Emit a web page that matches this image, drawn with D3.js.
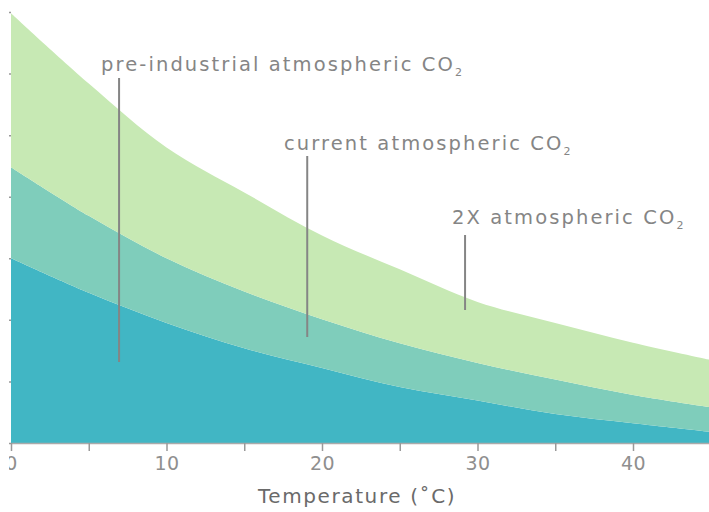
<!DOCTYPE html>
<html><head><meta charset="utf-8">
<script src="https://cdn.jsdelivr.net/npm/d3@7"></script>
<style>
html,body{margin:0;padding:0;background:#fff;}
svg{display:block;}
</style></head>
<body>
<svg id="chart" width="709" height="512"></svg>
<script>
// Temperature (°C) sample points
const temperature = [0, 5, 10, 15, 20, 25, 30, 35, 40, 45];
// Stacked layer thicknesses (bottom to top)
const preIndustrial = [3.00, 2.44, 1.95, 1.54, 1.22, 0.91, 0.69, 0.47, 0.32, 0.18];
const current       = [1.48, 1.25, 1.05, 0.92, 0.79, 0.71, 0.61, 0.56, 0.46, 0.40];
const doubled       = [2.50, 2.15, 1.80, 1.61, 1.36, 1.20, 0.99, 0.92, 0.85, 0.77];
const xTicks = [0, 10, 20, 30, 40];
const xMinorTicks = [0, 5, 10, 15, 20, 25, 30, 35, 40, 45];
const yTicks = [0, 1, 2, 3, 4, 5, 6, 7];
const seriesKeys = ["pre", "cur", "dbl"];
const labels = [
  {key: "pre", text: "pre-industrial atmospheric CO", t: 6.95},
  {key: "cur", text: "current atmospheric CO", t: 19.05},
  {key: "dbl", text: "2X atmospheric CO", t: 29.2}
];
const colors = {pre: "#41b6c4", cur: "#7fcdbb", dbl: "#c7e9b4"};

const svg = d3.select("#chart");
const x = d3.scaleLinear().domain([0, 45]).range([11, 710.75]);
const y = d3.scaleLinear().domain([0, 7]).range([443, 12]);

svg.append("defs").append("clipPath").attr("id", "crop")
  .append("rect").attr("x", 9).attr("y", 0).attr("width", 700).attr("height", 512);
const g = svg.append("g").attr("clip-path", "url(#crop)");

const table = temperature.map((t, i) => ({t, pre: preIndustrial[i], cur: current[i], dbl: doubled[i]}));
const stacked = d3.stack().keys(seriesKeys)(table);

const area = d3.area()
  .x(d => x(d.data.t))
  .y0(d => y(d[0]))
  .y1(d => y(d[1]))
  .curve(d3.curveCatmullRom.alpha(0.5));

g.selectAll("path.layer").data(stacked).join("path")
  .attr("class", "layer")
  .attr("fill", d => colors[d.key])
  .attr("d", area);

// y axis ticks (no labels)
const yAxis = g.append("g").attr("transform", "translate(11,0)")
  .call(d3.axisLeft(y).tickValues(yTicks).tickSize(3).tickFormat(""));
yAxis.select(".domain").remove();
yAxis.selectAll("line").attr("stroke", "#999").attr("stroke-width", 1.5);

// x axis
const xAxis = g.append("g").attr("transform", "translate(0,443)")
  .call(d3.axisBottom(x).tickValues(xMinorTicks).tickSize(8).tickSizeOuter(0)
    .tickFormat(d => xTicks.includes(d) ? d : ""));
xAxis.select(".domain").attr("stroke", "#aaa").attr("stroke-width", 1.5);
xAxis.selectAll(".tick line").attr("stroke", "#999").attr("stroke-width", 1.5);
xAxis.selectAll(".tick text")
  .attr("y", 14)
  .attr("fill", "#8f8f8f")
  .style("font-family", "'DejaVu Sans', sans-serif")
  .style("font-size", "19px")
  .style("letter-spacing", "0.5px");

// x axis title
g.append("text")
  .attr("x", 357).attr("y", 503)
  .attr("text-anchor", "middle")
  .attr("fill", "#6a6a6a")
  .style("font-family", "'DejaVu Sans', sans-serif")
  .style("font-size", "20px")
  .style("letter-spacing", "1.6px")
  .text("Temperature (˚C)");

// callouts
const callouts = [
  {text: labels[0].text, tx: 101, ty: 71, lx: labels[0].t, y1: 78, y2: 362},
  {text: labels[1].text, tx: 284, ty: 150, lx: labels[1].t, y1: 156, y2: 337},
  {text: labels[2].text, tx: 452, ty: 224, lx: labels[2].t, y1: 235, y2: 310}
];
callouts.forEach(c => {
  g.append("line")
    .attr("x1", x(c.lx)).attr("x2", x(c.lx))
    .attr("y1", c.y1).attr("y2", c.y2)
    .attr("stroke", "#858585").attr("stroke-width", 2);
  const t = g.append("text")
    .attr("x", c.tx).attr("y", c.ty)
    .attr("fill", "#858585")
    .style("font-family", "'DejaVu Sans', sans-serif")
    .style("font-size", "19.5px")
    .style("letter-spacing", "2.1px");
  t.append("tspan").text(c.text);
  t.append("tspan").attr("dy", 5).style("font-size", "11px").text("2");
});
</script>
</body></html>
